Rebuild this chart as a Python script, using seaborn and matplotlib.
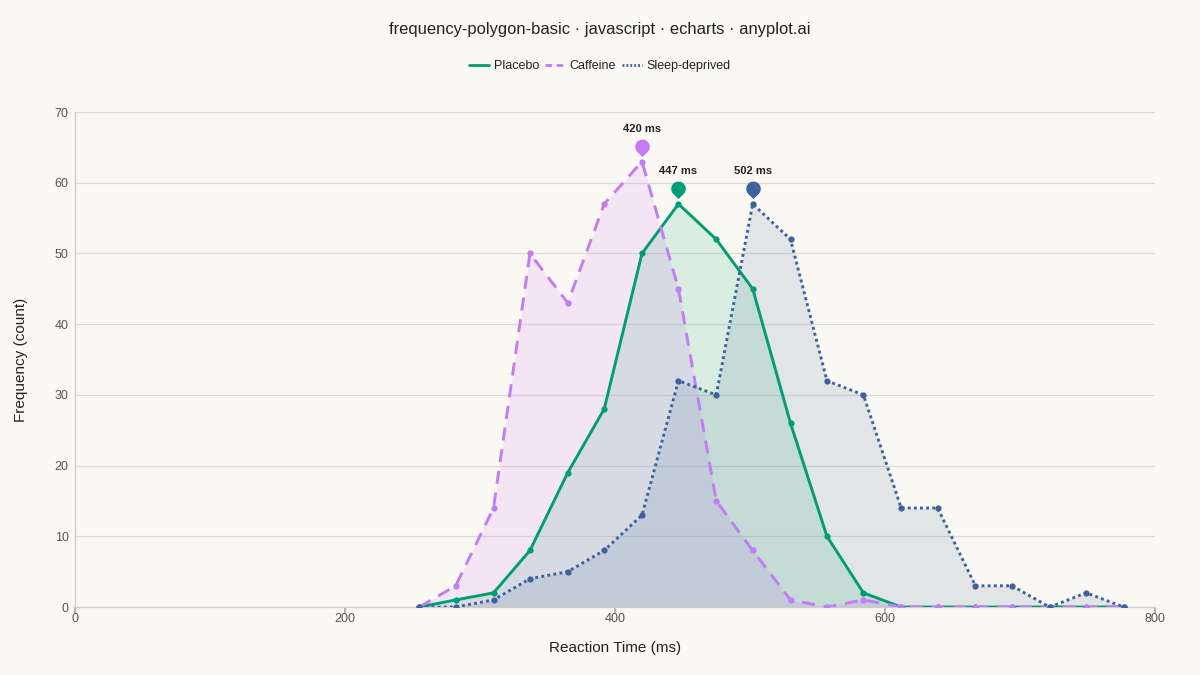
import numpy as np
import pandas as pd
import matplotlib
matplotlib.use("Agg")
import matplotlib.pyplot as plt
from matplotlib.path import Path
from matplotlib.lines import Line2D
import seaborn as sns

# ---- data ----
bin_centers = [255, 282, 310, 337, 365, 392, 420, 447, 475, 502,
               530, 557, 584, 612, 639, 667, 694, 722, 749, 777]
placebo = [0, 1, 2, 8, 19, 28, 50, 57, 52, 45, 26, 10, 2, 0, 0, 0, 0, 0, 0, 0]
caffeine = [0, 3, 14, 50, 43, 57, 63, 45, 15, 8, 1, 0, 1, 0, 0, 0, 0, 0, 0, 0]
sleep_deprived = [0, 0, 1, 4, 5, 8, 13, 32, 30, 57, 52, 32, 30, 14, 14, 3, 3, 0, 2, 0]
series_names = ["Placebo", "Caffeine", "Sleep-deprived"]
peak_labels = ["447 ms", "420 ms", "502 ms"]
x_ticks = [0, 200, 400, 600, 800]
y_ticks = [0, 10, 20, 30, 40, 50, 60, 70]

colors = {"Placebo": "#009E73", "Caffeine": "#C17CF6", "Sleep-deprived": "#3F619F"}
dashes = {"Placebo": "-", "Caffeine": (0, (4.5, 3)), "Sleep-deprived": (0, (1, 1.1))}
legend_dashes = {"Placebo": "-", "Caffeine": (0, (2.4, 1.6)), "Sleep-deprived": (0, (0.7, 0.7))}
fill_colors = {"Placebo": "#1fb07f", "Caffeine": "#cb79f9", "Sleep-deprived": "#53799f"}
fill_alpha = 0.15

bg = "#FAF8F2"
sns.set_theme(style="white")
plt.rcParams["font.family"] = ["Liberation Sans", "DejaVu Sans"]

df = pd.DataFrame({
    "x": bin_centers * 3,
    "y": placebo + caffeine + sleep_deprived,
    "series": sum([[n] * len(bin_centers) for n in series_names], []),
})

fig = plt.figure(figsize=(12, 6.75), dpi=100, facecolor=bg)
ax = fig.add_axes([0.0625, 0.1007, 0.9, 0.7333])
ax.set_facecolor(bg)

# pin marker: tip slightly above origin (the data point), circle above
tip_y, cy, r = 0.75, 2.15, 1.0
d = cy - tip_y
ang = np.degrees(np.arccos(r / d))
theta = np.radians(np.linspace(-90 + ang, 270 - ang, 60))
circ = [(r * np.cos(t), cy + r * np.sin(t)) for t in theta]
verts = [(0, tip_y)] + circ + [(0, tip_y)]
codes = [Path.MOVETO] + [Path.LINETO] * (len(verts) - 2) + [Path.CLOSEPOLY]
pin = Path(verts, codes)

for name in series_names:
    sub = df[df["series"] == name]
    ax.fill_between(sub["x"], 0, sub["y"], color=fill_colors[name],
                    alpha=fill_alpha, linewidth=0, zorder=1)

for name in series_names:
    sub = df[df["series"] == name]
    sns.lineplot(data=sub, x="x", y="y", ax=ax, color=colors[name],
                 linestyle=dashes[name], linewidth=2.1, marker="o",
                 markersize=4.5, markeredgewidth=0, zorder=3, legend=False)

for name, lab in zip(series_names, peak_labels):
    sub = df[df["series"] == name].reset_index(drop=True)
    i = sub["y"].idxmax()
    px, py = sub.loc[i, "x"], sub.loc[i, "y"]
    ax.plot([px], [py], marker=pin, markersize=33, color=colors[name],
            markeredgewidth=0, linestyle="none", zorder=5)
    ax.annotate(lab, (px, py), xytext=(0, 23.5), textcoords="offset points",
                ha="center", va="center", fontsize=8, fontweight="bold",
                color="#222222", zorder=6)

ax.set_xlim(0, 800)
ax.set_ylim(0, 70)
ax.set_xticks(x_ticks)
ax.set_yticks(y_ticks)
ax.grid(axis="y", color="#dedbd4", linewidth=0.9)
ax.grid(axis="x", visible=False)
ax.set_axisbelow(True)
for s in ["top", "right"]:
    ax.spines[s].set_visible(False)
for s in ["left", "bottom"]:
    ax.spines[s].set_color("#cfccc5")
    ax.spines[s].set_linewidth(0.9)
ax.tick_params(axis="x", length=4, color="#aaaaaa", labelsize=9,
               labelcolor="#555555", pad=0.5, bottom=True)
ax.tick_params(axis="y", length=0, labelsize=9, labelcolor="#555555", pad=4.5)
ax.set_xlabel("Reaction Time (ms)", fontsize=11, color="#222222", labelpad=11)
ax.set_ylabel("Frequency (count)", fontsize=11, color="#222222", labelpad=19)

fig.text(0.5, 0.956, "frequency-polygon-basic · javascript · echarts · anyplot.ai",
         ha="center", va="center", fontsize=11.9, color="#222222")

handles = [Line2D([0], [0], color=colors[n], linestyle=legend_dashes[n], linewidth=2)
           for n in series_names]
fig.legend(handles, series_names, loc="center", bbox_to_anchor=(0.5, 0.902),
           ncol=3, frameon=False, fontsize=9, handlelength=1.55,
           handletextpad=0.4, columnspacing=0.5, labelcolor="#222222",
           borderpad=0)

fig.savefig("out.png", dpi=100, facecolor=bg)
